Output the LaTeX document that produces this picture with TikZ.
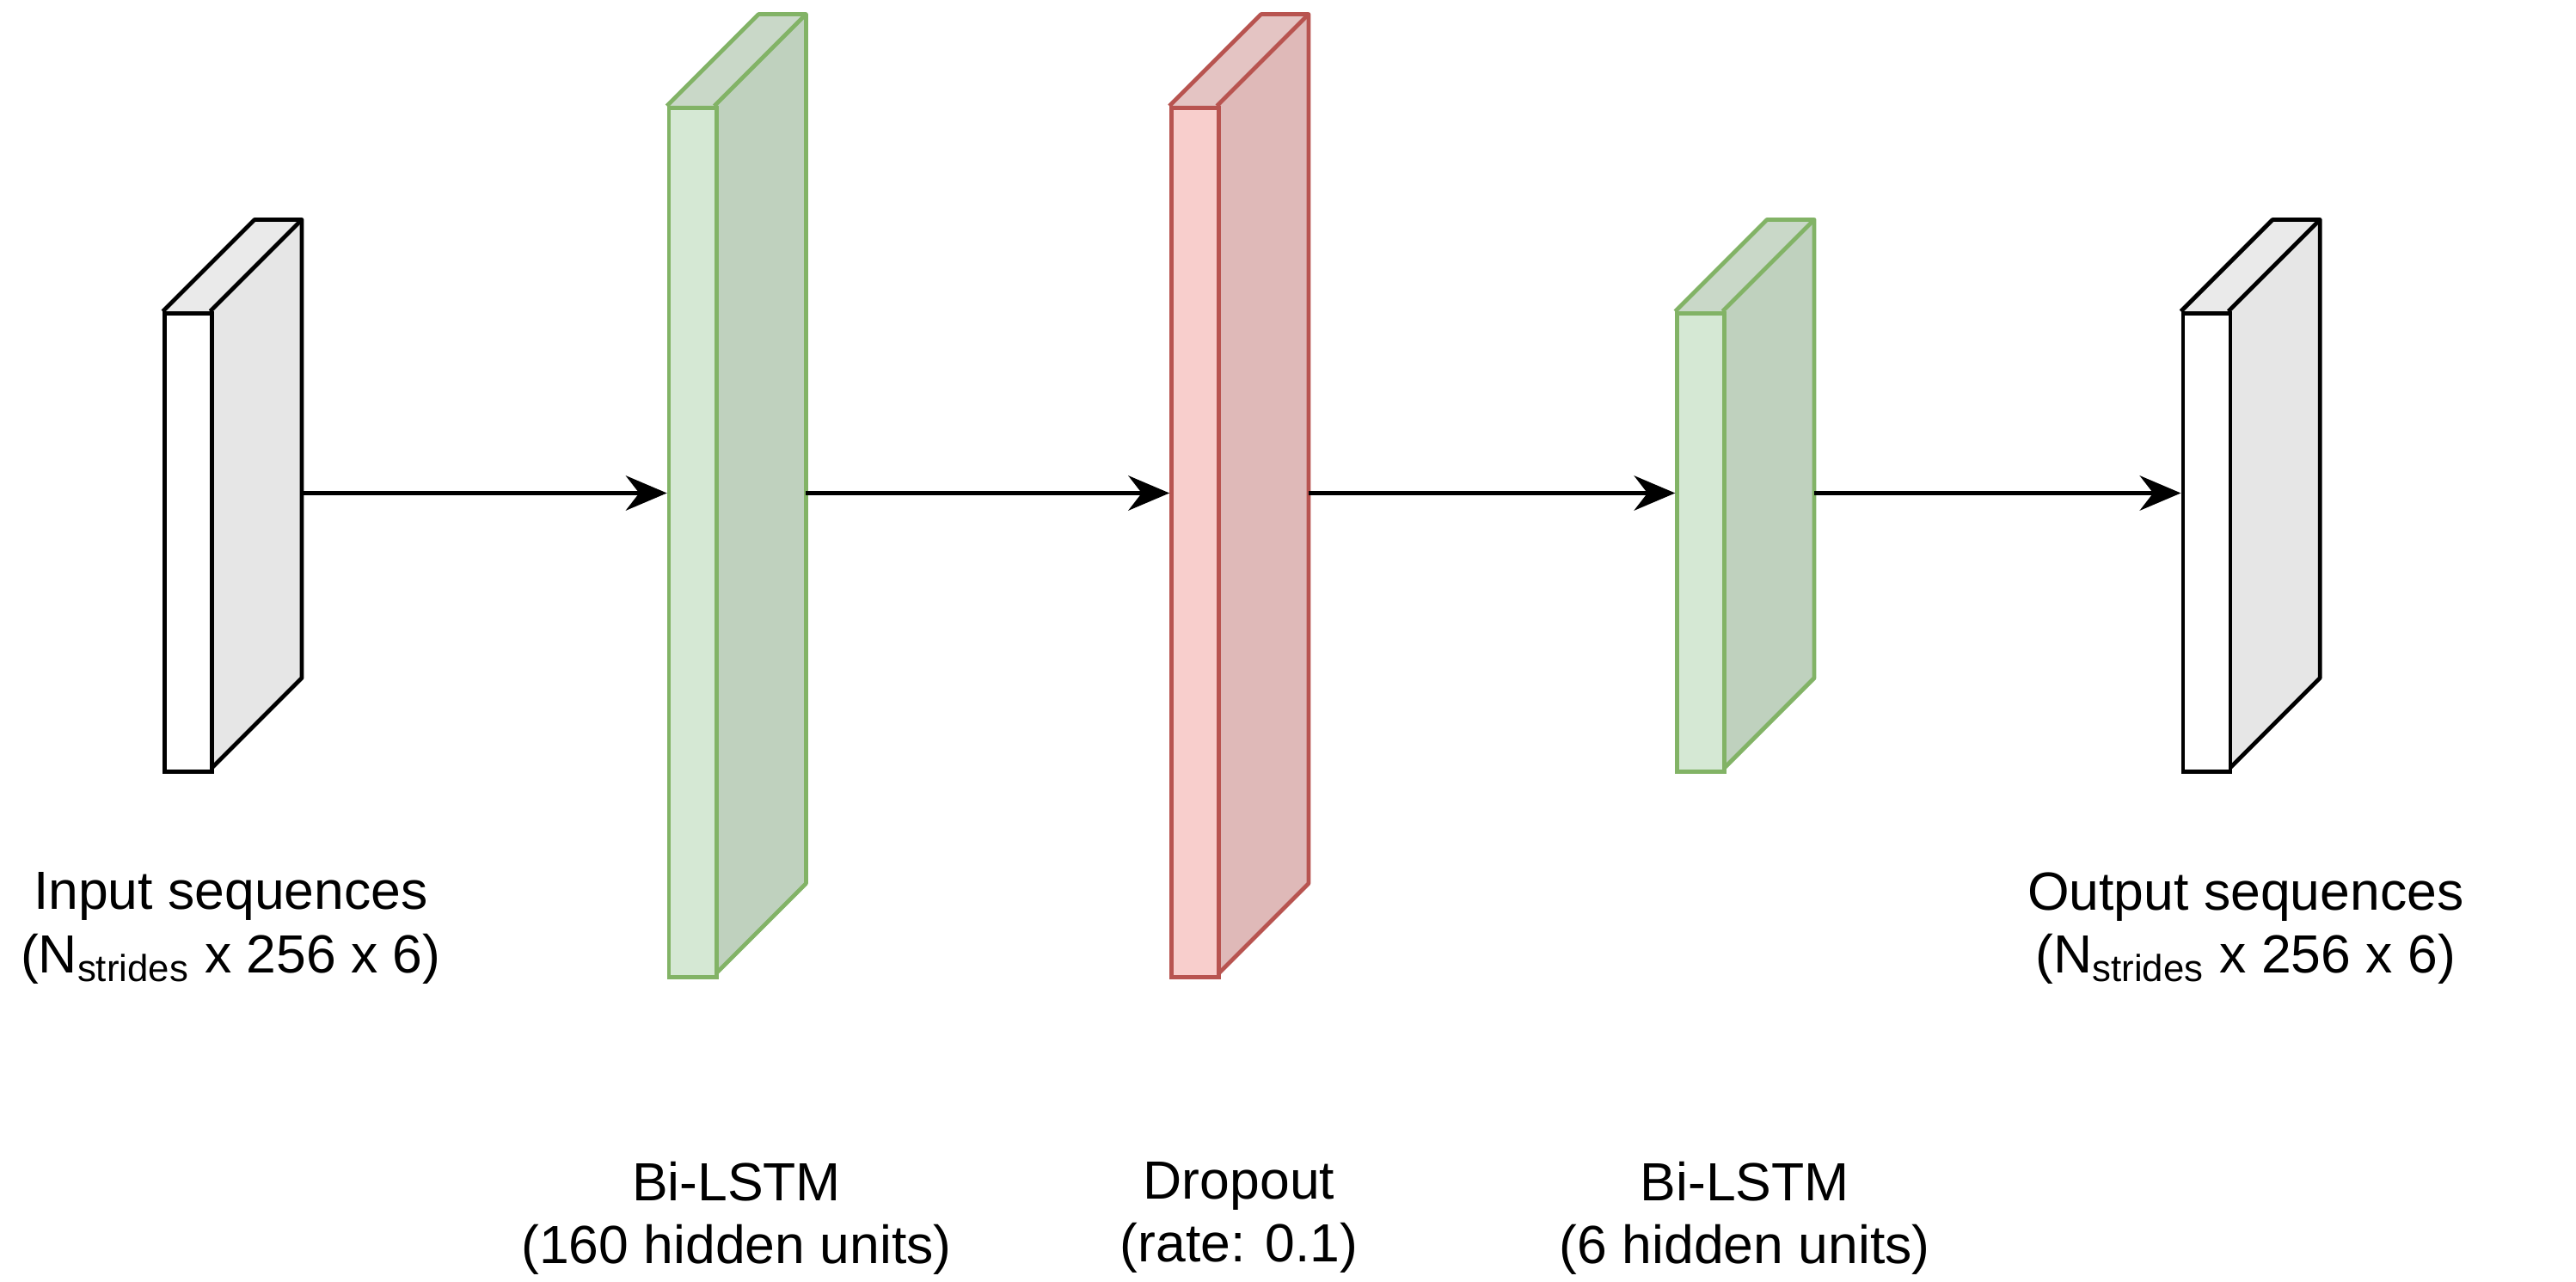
\documentclass[tikz,border=0pt]{standalone}
\usepackage{fontspec}
\setmainfont{Liberation Sans}
\usetikzlibrary{arrows.meta}
\definecolor{gstroke}{HTML}{82B366}
\definecolor{gfront}{HTML}{D5E8D4}
\definecolor{gside}{HTML}{BFD1BE}
\definecolor{rstroke}{HTML}{B85450}
\definecolor{rfront}{HTML}{F8CECC}
\definecolor{rside}{HTML}{DFB9B8}
\definecolor{kside}{HTML}{E6E6E6}
\newcommand{\myblock}[8]{%
 \fill[#6] (#2+30,#3) -- (#2+88,#3-58) -- (#2+88,#4-58) -- (#2+30,#4) -- cycle;
 \fill[#6!85!white] (#2,#3) -- (#2+58,#3-58) -- (#2+88,#3-58) -- (#2+30,#3) -- cycle;
 \draw[line width=1.3pt,#7,line join=round] (#2,#3) -- (#2+58,#3-58) -- (#2+88,#3-58) -- (#2+88,#4-58) -- (#2+30,#4);
 \draw[line width=1.3pt,#7] (#2+30,#3) -- (#2+88,#3-58);
 \node[draw=#7,fill=#5,line width=1.3pt,minimum width=15pt,minimum height={(#4-#3)*0.5pt},inner sep=0pt,anchor=north west] (#1) at (#2,#3) {};
 \coordinate (#1-out) at (#2+88,312);
 \coordinate (#1-in) at (#2,312);
}
\begin{document}
\begin{tikzpicture}[x=0.5pt,y=-0.5pt,
 lbl/.style={font=\fontsize{17pt}{20pt}\selectfont,align=center,anchor=north},
 arr/.style={line width=1.3pt,-{Stealth[length=13pt,width=11pt]}}]
\useasboundingbox (0,0) rectangle (1630,811);
\myblock{inp}{103}{197}{487}{white}{kside}{black}{}
\myblock{lstma}{422}{67}{617}{gfront}{gside}{gstroke}{}
\myblock{drop}{740}{67}{617}{rfront}{rside}{rstroke}{}
\myblock{lstmb}{1060}{197}{487}{gfront}{gside}{gstroke}{}
\myblock{outp}{1380}{197}{487}{white}{kside}{black}{}
\draw[arr] (inp-out) -- (lstma-in);
\draw[arr] (lstma-out) -- (drop-in);
\draw[arr] (drop-out) -- (lstmb-in);
\draw[arr] (lstmb-out) -- (outp-in);
\node[lbl] (t1) at (146,545) {Input sequences\\(N\textsubscript{strides} x 256 x 6)};
\node[lbl] (t2) at (1421,545) {Output sequences\\(N\textsubscript{strides} x 256 x 6)};
\node[lbl] (t3) at (466,728) {Bi-LSTM\\(160 hidden units)};
\node[lbl] (t4) at (784,728) {Dropout\\(rate: 0.1)};
\node[lbl] (t5) at (1104,728) {Bi-LSTM\\(6 hidden units)};
\end{tikzpicture}
\end{document}
